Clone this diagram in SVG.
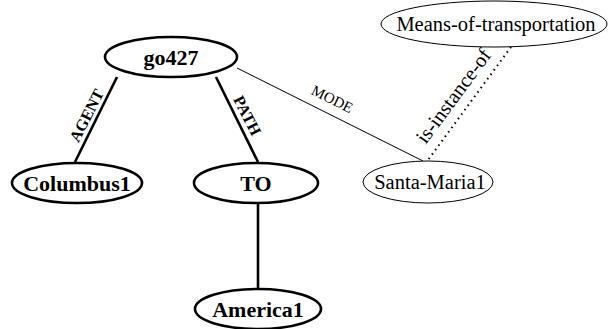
<svg xmlns="http://www.w3.org/2000/svg" width="608" height="329" viewBox="0 0 608 329">
<style>
.bold{fill:#fff;stroke:#000;stroke-width:2.6}
.thin{fill:#fff;stroke:#000;stroke-width:1}
.bt{font-family:"Liberation Serif","Times New Roman",serif;font-weight:bold;font-size:22px;text-anchor:middle;fill:#000}
.nt{font-family:"Liberation Serif","Times New Roman",serif;font-size:20.5px;text-anchor:middle;fill:#000}
.thick{stroke:#000;stroke-width:2.6;fill:none}
.line{stroke:#000;stroke-width:1;fill:none}
.dot{stroke:#000;stroke-width:2;stroke-dasharray:1.5 4;fill:none}
.lb{font-family:"Liberation Serif","Times New Roman",serif;font-weight:bold;font-size:16px;text-anchor:middle;fill:#000}
.ln{font-family:"Liberation Serif","Times New Roman",serif;font-size:15px;text-anchor:middle;fill:#000}
.li{font-family:"Liberation Serif","Times New Roman",serif;font-size:20.5px;text-anchor:middle;fill:#000}
</style>
<rect width="608" height="329" fill="#fff"/>
<g id="connectors">
<line class="thick" x1="117" y1="77" x2="75" y2="162"/>
<text class="lb" transform="translate(91.5,118) rotate(-63)">AGENT</text>
<line class="thick" x1="216" y1="77" x2="258" y2="162"/>
<text class="lb" transform="translate(242.5,118) rotate(63)">PATH</text>
<line class="thick" x1="258" y1="203" x2="258" y2="289"/>
<line class="line" x1="237" y1="68" x2="423" y2="161"/>
<text class="ln" transform="translate(330,103.5) rotate(26.3)">MODE</text>
<line class="dot" x1="511" y1="47" x2="428" y2="160"/>
<text class="li" transform="translate(459,100) rotate(-53.5)">is-instance-of</text>
</g>
<g id="go427">
<ellipse class="bold" cx="171" cy="57" rx="66" ry="20"/>
<text class="bt" x="171" y="65">go427</text>
</g>
<g id="Columbus1">
<ellipse class="bold" cx="77" cy="183" rx="65" ry="20"/>
<text class="bt" x="77" y="191">Columbus1</text>
</g>
<g id="TO">
<ellipse class="bold" cx="256" cy="183" rx="62" ry="20"/>
<text class="bt" x="256" y="191">TO</text>
</g>
<g id="America1">
<ellipse class="bold" cx="258" cy="309" rx="63" ry="20"/>
<text class="bt" x="258" y="317">America1</text>
</g>
<g id="Santa-Maria1">
<ellipse class="thin" cx="428" cy="182" rx="65" ry="21"/>
<text class="nt" x="430" y="189">Santa-Maria1</text>
</g>
<g id="Means-of-transportation">
<ellipse class="thin" cx="494" cy="24" rx="113" ry="23"/>
<text class="nt" x="496" y="31">Means-of-transportation</text>
</g>
</svg>
